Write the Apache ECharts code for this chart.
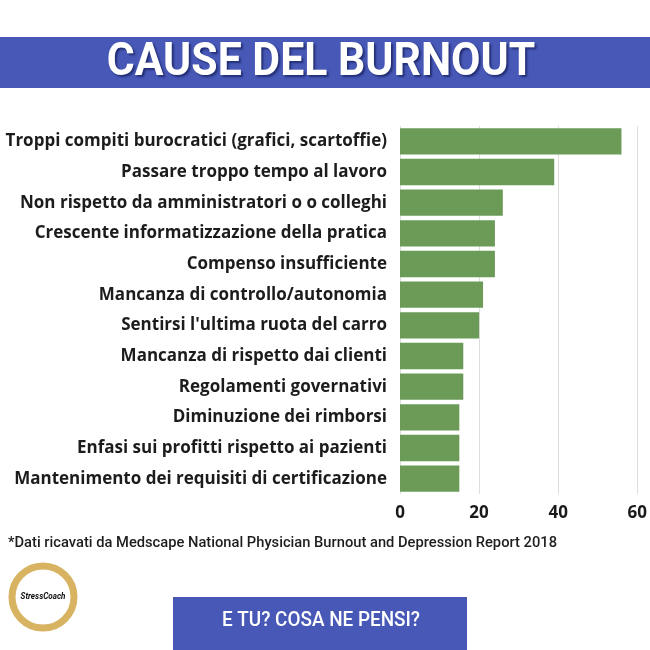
<!DOCTYPE html>
<html>
<head>
<meta charset="utf-8">
<script src="https://cdn.jsdelivr.net/npm/echarts@6/dist/echarts.min.js"></script>
<style>
html,body{margin:0;padding:0;background:#fff;}
#c{width:650px;height:650px;}
</style>
</head>
<body>
<div id="c"></div>
<script>
const categories = [
  "Troppi compiti burocratici (grafici, scartoffie)",
  "Passare troppo tempo al lavoro",
  "Non rispetto da amministratori o o colleghi",
  "Crescente informatizzazione della pratica",
  "Compenso insufficiente",
  "Mancanza di controllo/autonomia",
  "Sentirsi l'ultima ruota del carro",
  "Mancanza di rispetto dai clienti",
  "Regolamenti governativi",
  "Diminuzione dei rimborsi",
  "Enfasi sui profitti rispetto ai pazienti",
  "Mantenimento dei requisiti di certificazione"
];
const values = [56, 39, 26, 24, 24, 21, 20, 16, 16, 15, 15, 15];
const titleText = "CAUSE DEL BURNOUT";
const footnote = "*Dati ricavati da Medscape National Physician Burnout and Depression Report 2018";
const buttonText = "E TU? COSA NE PENSI?";
const logoText = "StressCoach";

const blue = "#4758b6";
const chart = echarts.init(document.getElementById('c'), null, {renderer: 'canvas'});
chart.setOption({
  backgroundColor: '#ffffff',
  animation: false,
  grid: {left: 400, right: 10, top: 126, height: 368, containLabel: false},
  xAxis: {
    type: 'value', min: 0, max: 60, interval: 20,
    axisLine: {show: false}, axisTick: {show: false},
    splitLine: {show: true, lineStyle: {color: '#dedede', width: 1}},
    axisLabel: {fontFamily: 'Open Sans', fontWeight: 'bold', fontSize: 17, color: '#1a1a1a', margin: 11}
  },
  yAxis: {
    type: 'category', data: categories, inverse: true,
    axisLine: {show: false}, axisTick: {show: false},
    axisLabel: {fontFamily: 'Open Sans', fontWeight: 'bold', fontSize: 17, color: '#1c1c1c', margin: 13}
  },
  series: [{
    type: 'bar', data: values, barCategoryGap: '14%',
    itemStyle: {color: '#6b9b57'}
  }],
  graphic: [
    {type: 'rect', shape: {x: 0, y: 37, width: 650, height: 51}, style: {fill: blue}},
    {type: 'text', x: 321, y: 63, scaleX: 0.93,
     style: {text: titleText, fill: '#ffffff', font: 'bold 46px Roboto', textAlign: 'center', textVerticalAlign: 'middle',
       textShadowColor: 'rgba(20,30,90,0.7)', textShadowOffsetX: 2, textShadowOffsetY: 2, textShadowBlur: 2}},
    {type: 'text', x: 8, y: 543, scaleX: 0.98,
     style: {text: footnote, fill: '#1e1e1e', font: '500 15px Roboto', textAlign: 'left', textVerticalAlign: 'middle'}},
    {type: 'circle', shape: {cx: 43, cy: 597, r: 31}, style: {fill: 'none', stroke: '#d0a646', lineWidth: 7, opacity: 0.85}},
    {type: 'text', x: 43, y: 597, scaleX: 0.9,
     style: {text: logoText, fill: '#111', font: 'italic bold 9px Roboto', textAlign: 'center', textVerticalAlign: 'middle'}},
    {type: 'rect', shape: {x: 173, y: 597, width: 294, height: 53}, style: {fill: blue}},
    {type: 'text', x: 321, y: 621, scaleX: 0.9,
     style: {text: buttonText, fill: '#ffffff', font: '500 21px Roboto', textAlign: 'center', textVerticalAlign: 'middle'}}
  ]
});
</script>
</body>
</html>
